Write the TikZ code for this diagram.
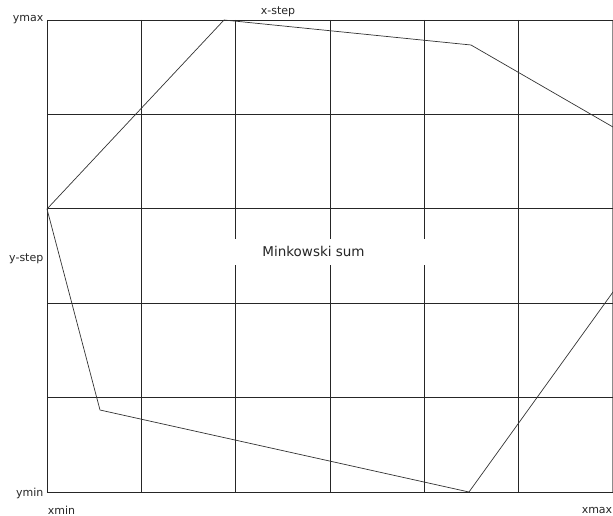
\documentclass[tikz,border=0pt]{standalone}
\usepackage{fontspec}
\setmainfont{DejaVu Sans}
\begin{document}
\begin{tikzpicture}[x=1pt,y=-1pt,
  gridline/.style={line width=0.8pt,black!85},
  poly/.style={line width=0.7pt,black!80,line join=round},
  lbl/.style={inner sep=0pt,font=\fontsize{11}{13}\selectfont,text=black!85},
  bigl/.style={inner sep=0pt,font=\fontsize{13.5}{15}\selectfont,text=black!85}]
\useasboundingbox (0,0) rectangle (613,516);
\clip (0,0) rectangle (613,516);
% grid
\foreach \x in {47,141.33,235.67,330,424.33,518.67} \draw[gridline] (\x,20) -- (\x,492);
\draw[line width=0.8pt,black!45] (612.6,20) -- (612.6,492);
\foreach \y in {20,114.4,208.8,303.2,397.6,492} \draw[gridline] (47,\y) -- (613,\y);
% label box
\fill[white] (226,239) rectangle (433,265);
\node[bigl] (ms) at (313.5,251.5) {Minkowski sum};
% polygon
\coordinate (p1) at (47,209);
\coordinate (p2) at (224,20);
\coordinate (p3) at (471,45);
\coordinate (p4) at (650,148.4);
\coordinate (p5) at (650,240.6);
\coordinate (p6) at (469,492);
\coordinate (p7) at (100,410);
\draw[poly] (p1) -- (p2) -- (p3) -- (p4) -- (p5) -- (p6) -- (p7) -- cycle;
% labels
\node[lbl,anchor=east] (ymax) at (43.5,20) {ymax};
\node[lbl] (xstep) at (278,12) {x-step};
\node[lbl,anchor=east] (ystep) at (43.5,259) {y-step};
\node[lbl,anchor=east] (ymin) at (43.5,493) {ymin};
\node[lbl] (xmin) at (61.5,510) {xmin};
\node[lbl] (xmax) at (597,510) {xmax};
\end{tikzpicture}
\end{document}
